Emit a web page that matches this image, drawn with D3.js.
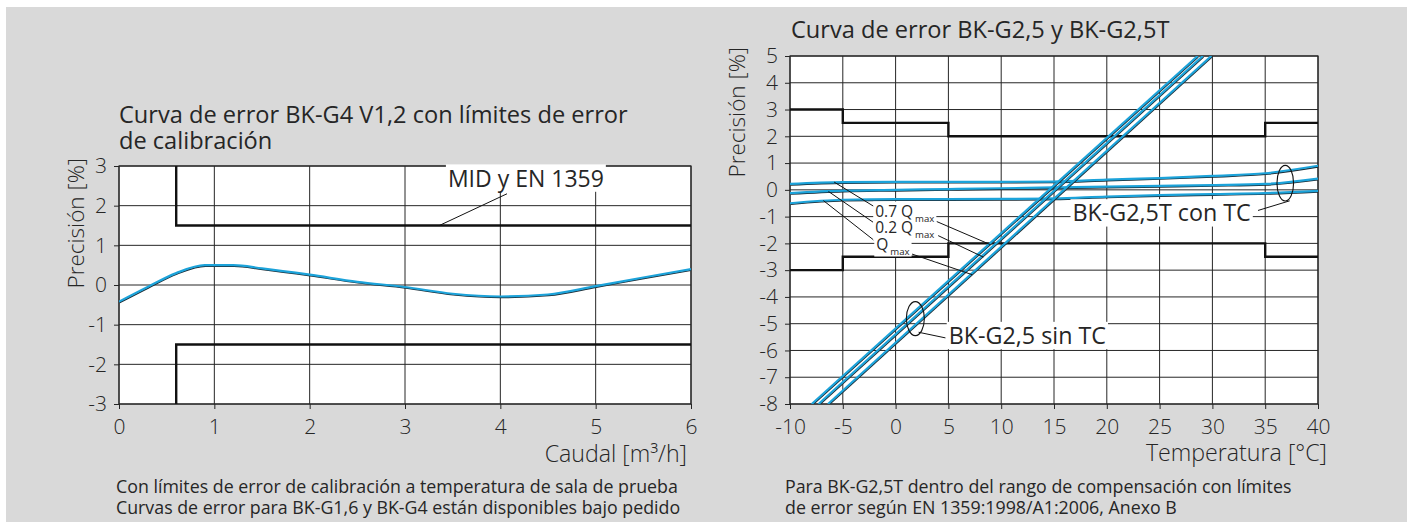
<!DOCTYPE html>
<html>
<head>
<meta charset="utf-8">
<script src="https://cdn.jsdelivr.net/npm/d3@7"></script>
<style>
  body { margin: 0; background: #fff; }
  text { font-family: 'Open Sans', 'Noto Sans', sans-serif; fill: #262626; }
</style>
</head>
<body>
<div id="chart"></div>
<script>
// left chart: BK-G4 V1,2
const flowQ = [0, 0.3, 0.6, 0.9, 1.2, 1.5, 2, 2.5, 3, 3.5, 4, 4.5, 5, 5.5, 6];
const errG4 = [-0.42, -0.05, 0.3, 0.5, 0.5, 0.42, 0.26, 0.08, -0.05, -0.22, -0.29, -0.24, -0.03, 0.19, 0.4];
const midFlow = [0.6, 0.6, 6];
const midUpper = [3, 1.5, 1.5];
const midLower = [-3, -1.5, -1.5];
const flowTicks = [0, 1, 2, 3, 4, 5, 6];
const precTicksL = [-3, -2, -1, 0, 1, 2, 3];

// right chart: BK-G2,5 / BK-G2,5T
const tempTC = [-10, -5, 0, 5, 10, 15, 20, 25, 30, 35, 40];
const tc07 = [0.22, 0.29, 0.3, 0.3, 0.3, 0.31, 0.38, 0.44, 0.52, 0.62, 0.9];
const tc02 = [-0.12, -0.03, 0, 0.03, 0.06, 0.09, 0.12, 0.15, 0.18, 0.22, 0.42];
const tcQmax = [-0.5, -0.37, -0.35, -0.35, -0.34, -0.32, -0.25, -0.2, -0.16, -0.12, -0.04];
const sinErr = [-8, 5];
const sin07 = [-7.94, 28.6];
const sin02 = [-7.3, 29.1];
const sinQmax = [-6.4, 29.9];
const limTemp = [-10, -5, 5, 35, 40];
const limUpper = [3, 2.5, 2, 2.5, 2.5];
const limLower = [-3, -2.5, -2, -2.5, -2.5];
const tempTicks = [-10, -5, 0, 5, 10, 15, 20, 25, 30, 35, 40];
const precTicksR = [-8, -7, -6, -5, -4, -3, -2, -1, 0, 1, 2, 3, 4, 5];

const W = 1407, H = 522;
const blue = '#1ca3da';
const titleSize = 23.6, capSize = 17.8, axisTitleSize = 23.2, tickSize = 21;

const svg = d3.select('#chart').append('svg')
  .attr('width', W).attr('height', H);

svg.append('rect')
  .attr('x', 6).attr('y', 7).attr('width', W - 6).attr('height', H - 7)
  .attr('fill', '#d9d9d9');

function drawPlot(cfg) {
  const x = d3.scaleLinear().domain(cfg.xDomain).range(cfg.xRange);
  const y = d3.scaleLinear().domain(cfg.yDomain).range(cfg.yRange);
  const g = svg.append('g');

  g.append('rect')
    .attr('x', cfg.xRange[0]).attr('y', cfg.yRange[1])
    .attr('width', cfg.xRange[1] - cfg.xRange[0])
    .attr('height', cfg.yRange[0] - cfg.yRange[1])
    .attr('fill', '#fff');

  // grid
  g.selectAll('line.vg').data(cfg.xTicks).join('line')
    .attr('x1', d => x(d)).attr('x2', d => x(d))
    .attr('y1', cfg.yRange[0]).attr('y2', cfg.yRange[1])
    .attr('stroke', '#262626').attr('stroke-width', 1);
  g.selectAll('line.hg').data(cfg.yTicks).join('line')
    .attr('y1', d => y(d)).attr('y2', d => y(d))
    .attr('x1', cfg.xRange[0]).attr('x2', cfg.xRange[1])
    .attr('stroke', '#262626').attr('stroke-width', 1);

  const xAxis = g.append('g')
    .attr('transform', `translate(0,${cfg.yRange[0]})`)
    .call(d3.axisBottom(x).tickValues(cfg.xTicks).tickSize(5).tickPadding(10.5).tickFormat(d => String(d)));
  const yAxis = g.append('g')
    .attr('transform', `translate(${cfg.xRange[0]},0)`)
    .call(d3.axisLeft(y).tickValues(cfg.yTicks).tickSize(5).tickPadding(7).tickFormat(d => String(d)));
  [xAxis, yAxis].forEach(a => {
    a.select('.domain').remove();
    a.selectAll('line').attr('stroke', '#262626');
    a.selectAll('text').attr('font-size', tickSize).attr('font-weight', 300)
      .attr('font-family', "'Open Sans', sans-serif").attr('fill', '#262626');
  });

  g.append('rect')
    .attr('x', cfg.xRange[0]).attr('y', cfg.yRange[1])
    .attr('width', cfg.xRange[1] - cfg.xRange[0])
    .attr('height', cfg.yRange[0] - cfg.yRange[1])
    .attr('fill', 'none').attr('stroke', '#262626').attr('stroke-width', 1.2);

  const clipId = 'clip' + cfg.xRange[0];
  svg.append('clipPath').attr('id', clipId).append('rect')
    .attr('x', cfg.xRange[0]).attr('y', cfg.yRange[1])
    .attr('width', cfg.xRange[1] - cfg.xRange[0])
    .attr('height', cfg.yRange[0] - cfg.yRange[1]);
  const marks = g.append('g').attr('clip-path', `url(#${clipId})`);
  return { x, y, g, marks };
}

function blueLine(layer, pts, curve) {
  const line = d3.line().x(d => d[0]).y(d => d[1]).curve(curve || d3.curveLinear);
  layer.append('path').attr('d', line(pts))
    .attr('fill', 'none').attr('stroke', '#1b2a33').attr('stroke-width', 1.4)
    .attr('transform', 'translate(0.6,1.1)');
  layer.append('path').attr('d', line(pts))
    .attr('fill', 'none').attr('stroke', blue).attr('stroke-width', 2.2);
}

function boxedText(layer, px, py, str, size, sub) {
  const t = layer.append('text').attr('x', px).attr('y', py)
    .attr('font-size', size).attr('fill', '#333');
  t.append('tspan').text(str);
  if (sub) t.append('tspan').attr('font-size', size * 0.62).attr('dy', size * 0.32).attr('dx', 2).text(sub);
  const b = t.node().getBBox();
  layer.insert('rect', 'text')
    .attr('x', b.x - 2).attr('y', b.y + size * 0.12).attr('width', b.width + 4).attr('height', b.height - size * 0.2)
    .attr('fill', '#fff');
  return t;
}

function leader(layer, p0, p1) {
  layer.append('line')
    .attr('x1', p0[0]).attr('y1', p0[1]).attr('x2', p1[0]).attr('y2', p1[1])
    .attr('stroke', '#111').attr('stroke-width', 1);
}

// ---------- left chart ----------
const L = drawPlot({
  xDomain: [0, 6], xRange: [119, 691],
  yDomain: [-3, 3], yRange: [404, 166],
  xTicks: flowTicks, yTicks: precTicksL,
});

const limLine = d3.line().x(d => d[0]).y(d => d[1]);
[midUpper, midLower].forEach(lim => {
  L.marks.append('path')
    .attr('d', limLine(midFlow.map((f, i) => [L.x(f), L.y(lim[i])])))
    .attr('fill', 'none').attr('stroke', '#111').attr('stroke-width', 2.4);
});
blueLine(L.marks, flowQ.map((f, i) => [L.x(f), L.y(errG4[i])]), d3.curveMonotoneX);

const midNotes = L.g.append('g');
leader(midNotes, [L.x(4.07), L.y(2.3)], [L.x(3.36), L.y(1.5)]);
boxedText(midNotes, L.x(3.45), L.y(2.48), 'MID y EN 1359', 23);

svg.append('text').attr('x', 119).attr('y', 123.3).attr('font-size', titleSize)
  .text('Curva de error BK-G4 V1,2 con límites de error');
svg.append('text').attr('x', 119).attr('y', 149.3).attr('font-size', titleSize)
  .text('de calibración');
svg.append('text').attr('transform', 'translate(84,158) rotate(-90)')
  .attr('text-anchor', 'end').attr('font-size', 22.5).attr('font-weight', 300)
  .text('Precisión [%]');
svg.append('text').attr('x', 687).attr('y', 461.5).attr('text-anchor', 'end')
  .attr('font-size', axisTitleSize).attr('font-weight', 300).text('Caudal [m³/h]');
svg.append('text').attr('x', 116).attr('y', 492.5).attr('font-size', capSize)
  .text('Con límites de error de calibración a temperatura de sala de prueba');
svg.append('text').attr('x', 116).attr('y', 514).attr('font-size', capSize)
  .text('Curvas de error para BK-G1,6 y BK-G4 están disponibles bajo pedido');

// ---------- right chart ----------
const R = drawPlot({
  xDomain: [-10, 40], xRange: [790, 1318],
  yDomain: [-8, 5], yRange: [404, 56],
  xTicks: tempTicks, yTicks: precTicksR,
});

const stepLine = d3.line().x(d => d[0]).y(d => d[1]).curve(d3.curveStepAfter);
[limUpper, limLower].forEach(lim => {
  R.marks.append('path')
    .attr('d', stepLine(limTemp.map((t, i) => [R.x(t), R.y(lim[i])])))
    .attr('fill', 'none').attr('stroke', '#111').attr('stroke-width', 2.4);
});

const notes = R.g.append('g');
// leaders from the compensated curves to the uncompensated lines
leader(notes, [R.x(-5.82), R.y(0.29)], [R.x(-1.93), R.y(-0.65)]);
leader(notes, [R.x(3.87), R.y(-1.18)], [R.x(9.0), R.y(-2.05)]);
leader(notes, [R.x(-6.36), R.y(-0.06)], [R.x(-2.09), R.y(-1.22)]);
leader(notes, [R.x(4.03), R.y(-1.71)], [R.x(8.3), R.y(-2.51)]);
leader(notes, [R.x(-6.84), R.y(-0.40)], [R.x(-2.09), R.y(-1.87)]);
leader(notes, [R.x(1.56), R.y(-2.40)], [R.x(7.26), R.y(-3.17)]);

[tc07, tc02, tcQmax].forEach(s => {
  blueLine(R.marks, tempTC.map((t, i) => [R.x(t), R.y(s[i])]), d3.curveMonotoneX);
});
[sin07, sin02, sinQmax].forEach(s => {
  blueLine(R.marks, s.map((t, i) => [R.x(t), R.y(sinErr[i])]));
});

const notes2 = R.g.append('g');
boxedText(notes2, R.x(-1.93), R.y(-1.0), '0.7 Q', 15.5, 'max');
boxedText(notes2, R.x(-1.93), R.y(-1.62), '0.2 Q', 15.5, 'max');
boxedText(notes2, R.x(-1.83), R.y(-2.24), 'Q', 15.5, 'max');

// ellipses + labels
notes2.append('ellipse').attr('cx', R.x(1.87)).attr('cy', R.y(-4.81))
  .attr('rx', 9).attr('ry', 17).attr('fill', 'none').attr('stroke', '#111').attr('stroke-width', 1.1);
leader(notes2, [R.x(2.18), R.y(-5.32)], [R.x(4.72), R.y(-5.53)]);
boxedText(notes2, R.x(5.03), R.y(-5.76), 'BK-G2,5 sin TC', 23.3);

notes2.append('ellipse').attr('cx', R.x(36.9)).attr('cy', R.y(0.25))
  .attr('rx', 8.3).attr('ry', 17.8).attr('fill', 'none').attr('stroke', '#111').attr('stroke-width', 1.1);
leader(notes2, [R.x(37.32), R.y(-0.41)], [R.x(34.32), R.y(-0.77)]);
boxedText(notes2, R.x(16.75), R.y(-1.18), 'BK-G2,5T con TC', 23.3);

svg.append('text').attr('x', 791).attr('y', 37.7).attr('font-size', titleSize)
  .text('Curva de error BK-G2,5 y BK-G2,5T');
svg.append('text').attr('transform', 'translate(745,47) rotate(-90)')
  .attr('text-anchor', 'end').attr('font-size', 22.5).attr('font-weight', 300)
  .text('Precisión [%]');
svg.append('text').attr('x', 1327).attr('y', 461).attr('text-anchor', 'end')
  .attr('font-size', axisTitleSize).attr('font-weight', 300).text('Temperatura [°C]');
svg.append('text').attr('x', 785).attr('y', 492.5).attr('font-size', capSize)
  .text('Para BK-G2,5T dentro del rango de compensación con límites');
svg.append('text').attr('x', 785).attr('y', 514).attr('font-size', capSize)
  .text('de error según EN 1359:1998/A1:2006, Anexo B');
</script>
</body>
</html>
